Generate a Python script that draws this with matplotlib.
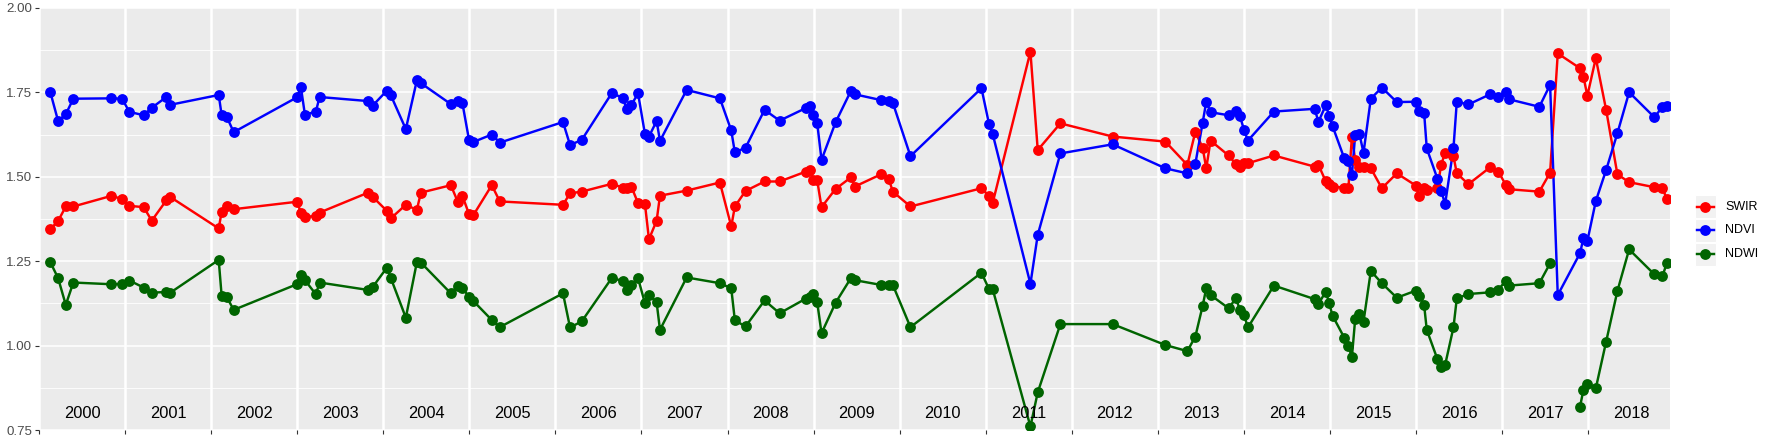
import numpy as np
import matplotlib
matplotlib.use('Agg')
import matplotlib.pyplot as plt
from matplotlib.patches import Rectangle
from matplotlib.ticker import FixedLocator

plt.rcParams['font.family'] = ['Liberation Sans', 'DejaVu Sans']

# acquisition dates, as decimal years
dates = [
    2000.132, 2000.222, 2000.311, 2000.399, 2000.834, 2000.965, 2001.050, 2001.217, 2001.310, 2001.479, 2001.526,
    2002.088, 2002.122, 2002.184, 2002.262,
    2002.997, 2003.043, 2003.090, 2003.217, 2003.260, 2003.824, 2003.875,
    2004.042, 2004.088, 2004.262, 2004.390, 2004.437, 2004.785, 2004.869, 2004.920,
    2004.997, 2005.048, 2005.261, 2005.354,
    2006.088, 2006.170, 2006.306, 2006.654, 2006.782, 2006.828, 2006.882, 2006.960,
    2007.040, 2007.087, 2007.176, 2007.215, 2007.525, 2007.911,
    2008.043, 2008.085, 2008.209, 2008.430, 2008.605, 2008.907, 2008.956, 2008.996,
    2009.042, 2009.092, 2009.255, 2009.433, 2009.479, 2009.781, 2009.873, 2009.920,
    2010.125, 2010.950, 2011.039, 2011.081, 2011.519, 2011.604, 2011.867, 2012.474,
    2013.087, 2013.342, 2013.435, 2013.520, 2013.562, 2013.612, 2013.821, 2013.907, 2013.953,
    2014.000, 2014.046, 2014.348, 2014.820, 2014.866, 2014.951, 2014.990, 2015.029,
    2015.165, 2015.214, 2015.254, 2015.292, 2015.342, 2015.389, 2015.474, 2015.602, 2015.776,
    2015.997, 2016.039, 2016.093, 2016.124, 2016.248, 2016.291, 2016.337, 2016.434, 2016.473,
    2016.608, 2016.860, 2016.956, 2017.042, 2017.084, 2017.432, 2017.557, 2017.646,
    2017.905, 2017.944, 2017.990, 2018.088, 2018.208, 2018.339, 2018.475, 2018.769, 2018.862, 2018.913,
]

swir = [
    1.345, 1.369, 1.412, 1.412, 1.443, 1.435, 1.414, 1.410, 1.370, 1.430, 1.440,
    1.347, 1.396, 1.412, 1.404,
    1.426, 1.394, 1.381, 1.384, 1.394, 1.453, 1.441,
    1.399, 1.377, 1.417, 1.402, 1.453, 1.475, 1.424, 1.443,
    1.389, 1.387, 1.475, 1.427,
    1.417, 1.451, 1.456, 1.479, 1.468, 1.468, 1.471, 1.422,
    1.420, 1.315, 1.370, 1.444, 1.459, 1.483,
    1.353, 1.412, 1.458, 1.486, 1.486, 1.515, 1.520, 1.491,
    1.489, 1.410, 1.464, 1.498, 1.471, 1.507, 1.494, 1.456,
    1.412, 1.466, 1.443, 1.423, 1.870, 1.579, 1.658, 1.619,
    1.604, 1.535, 1.633, 1.586, 1.525, 1.607, 1.563, 1.537, 1.530,
    1.540, 1.540, 1.563, 1.530, 1.535, 1.486, 1.479, 1.471,
    1.468, 1.468, 1.619, 1.550, 1.530, 1.530, 1.525, 1.466, 1.510,
    1.474, 1.443, 1.466, 1.461, 1.466, 1.535, 1.571, 1.561, 1.510,
    1.478, 1.528, 1.515, 1.476, 1.463, 1.456, 1.512, 1.865,
    1.821, 1.796, 1.740, 1.851, 1.698, 1.507, 1.484, 1.469, 1.468, 1.433,
]

ndvi = [
    1.750, 1.665, 1.685, 1.731, 1.732, 1.731, 1.692, 1.682, 1.704, 1.736, 1.713,
    1.742, 1.683, 1.676, 1.632,
    1.735, 1.765, 1.683, 1.693, 1.736, 1.724, 1.710,
    1.755, 1.741, 1.641, 1.785, 1.777, 1.715, 1.724, 1.717,
    1.608, 1.603, 1.625, 1.601,
    1.662, 1.594, 1.609, 1.747, 1.734, 1.700, 1.712, 1.747,
    1.627, 1.619, 1.665, 1.606, 1.757, 1.732,
    1.637, 1.572, 1.586, 1.698, 1.666, 1.703, 1.709, 1.683,
    1.658, 1.550, 1.661, 1.754, 1.744, 1.727, 1.724, 1.719,
    1.561, 1.762, 1.655, 1.626, 1.183, 1.328, 1.569, 1.596,
    1.525, 1.510, 1.538, 1.660, 1.722, 1.691, 1.682, 1.695, 1.680,
    1.639, 1.607, 1.693, 1.701, 1.663, 1.712, 1.680, 1.650,
    1.555, 1.547, 1.504, 1.624, 1.626, 1.571, 1.731, 1.764, 1.721,
    1.722, 1.695, 1.690, 1.584, 1.494, 1.459, 1.419, 1.584, 1.722,
    1.714, 1.744, 1.737, 1.750, 1.729, 1.707, 1.772, 1.150,
    1.274, 1.318, 1.310, 1.428, 1.520, 1.629, 1.750, 1.676, 1.707, 1.709,
]

# the NDWI value on 2017.646 falls below the axis and is dropped (gap in the line)
ndwi = [
    1.247, 1.200, 1.121, 1.187, 1.182, 1.183, 1.193, 1.172, 1.157, 1.159, 1.157,
    1.254, 1.148, 1.143, 1.106,
    1.182, 1.208, 1.194, 1.152, 1.187, 1.165, 1.173,
    1.231, 1.200, 1.083, 1.247, 1.246, 1.155, 1.178, 1.170,
    1.145, 1.132, 1.076, 1.055,
    1.155, 1.054, 1.072, 1.200, 1.192, 1.165, 1.180, 1.200,
    1.126, 1.150, 1.128, 1.047, 1.202, 1.185,
    1.170, 1.075, 1.057, 1.134, 1.096, 1.139, 1.143, 1.153,
    1.128, 1.037, 1.127, 1.200, 1.194, 1.180, 1.180, 1.180,
    1.055, 1.216, 1.167, 1.167, 0.761, 0.862, 1.064, 1.064,
    1.002, 0.984, 1.027, 1.118, 1.170, 1.150, 1.111, 1.140, 1.106,
    1.091, 1.054, 1.178, 1.138, 1.124, 1.160, 1.126, 1.089,
    1.024, 0.998, 0.966, 1.078, 1.094, 1.071, 1.221, 1.185, 1.142,
    1.163, 1.147, 1.121, 1.047, 0.960, 0.938, 0.943, 1.054, 1.140,
    1.153, 1.158, 1.165, 1.193, 1.178, 1.185, 1.244, np.nan,
    0.820, 0.869, 0.887, 0.874, 1.012, 1.162, 1.285, 1.211, 1.206, 1.244,
]

years = list(range(2000, 2019))
y_ticks = [0.75, 1.00, 1.25, 1.50, 1.75, 2.00]
series_names = ['SWIR', 'NDVI', 'NDWI']
series_colors = ['#FF0000', '#0000FF', '#006400']

W, H = 1773, 442
fig = plt.figure(figsize=(W / 100, H / 100), dpi=100)
ax = fig.add_axes([39 / W, 1 - 430.2 / H, (1670 - 39) / W, (430.2 - 7.8) / H])
ax.set_facecolor('#EBEBEB')
for s in ax.spines.values():
    s.set_visible(False)

x = np.array(dates)
all_series = [np.array(swir), np.array(ndvi), np.array(ndwi)]

for vals, col in zip(all_series, series_colors):
    ax.plot(x, vals, color=col, lw=1.75, zorder=3)
for vals, col in zip(all_series, series_colors):
    ax.plot(x, vals, 'o', color=col, ms=7.8, mew=0, zorder=4)

ax.set_xlim(2000.0, 2018.95)
ax.set_ylim(0.75, 2.00)

ax.xaxis.set_major_locator(FixedLocator(years))
ax.set_xticklabels([])
ax.yaxis.set_major_locator(FixedLocator(y_ticks))
ax.yaxis.set_minor_locator(FixedLocator([0.875, 1.125, 1.375, 1.625, 1.875]))
ax.set_yticklabels(['%.2f' % t for t in y_ticks])

ax.set_axisbelow(True)
ax.grid(which='major', axis='y', color='white', lw=1.1)
ax.grid(which='minor', axis='y', color='white', lw=0.6)
ax.grid(which='major', axis='x', color='white', lw=1.8)
ax.tick_params(which='major', length=3, width=0.8, color='#333333',
               labelsize=9.6, labelcolor='#4D4D4D', pad=2)
ax.tick_params(which='minor', length=0)

# year labels at mid-year inside the panel
for yr in years:
    ax.text(yr + 0.5, 0.798, str(yr), ha='center', va='center',
            fontsize=11.8, color='black', zorder=5)

# legend drawn in pixel coordinates
lax = fig.add_axes([0, 0, 1, 1], zorder=10)
lax.set_xlim(0, W)
lax.set_ylim(H, 0)
lax.axis('off')
lax.patch.set_alpha(0)
key_y = [206.7, 230.3, 254.0]
for ky, name, col in zip(key_y, series_names, series_colors):
    lax.add_patch(Rectangle((1694.5, ky - 11.5), 21, 23, facecolor='#F2F2F2',
                            edgecolor='white', lw=0.8))
    lax.plot([1696.5, 1713.5], [ky, ky], color=col, lw=1.75)
    lax.plot([1705], [ky], 'o', color=col, ms=7.8, mew=0)
    lax.text(1725, ky, name, ha='left', va='center', fontsize=9, color='black')

fig.savefig('out.png', dpi=100)
